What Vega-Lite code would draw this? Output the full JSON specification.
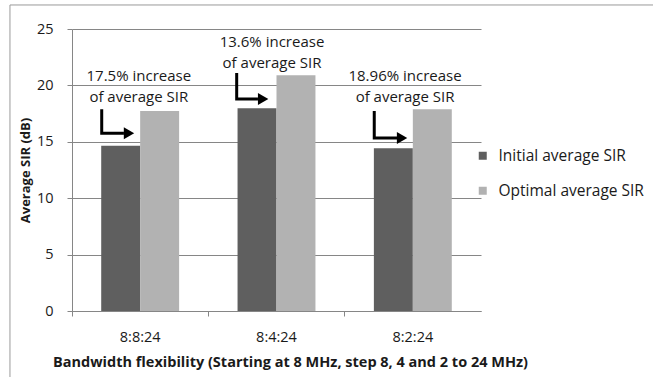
{
  "$schema": "https://vega.github.io/schema/vega-lite/v6.json",
  "autosize": {"type": "none"},
  "padding": {"left": 72, "top": 29, "right": 172, "bottom": 66},
  "width": 409,
  "height": 282,
  "background": "white",
  "config": {
    "font": "Open Sans",
    "view": {"stroke": null},
    "axis": {"labelFont": "Open Sans", "titleFont": "Open Sans", "labelColor": "#1a1a1a", "titleColor": "#1a1a1a"},
    "legend": {"labelFont": "Open Sans"}
  },
  "datasets": {
    "sir": [
      {"setting": "8:8:24", "series": "Initial average SIR", "value": 14.65},
      {"setting": "8:8:24", "series": "Optimal average SIR", "value": 17.73},
      {"setting": "8:4:24", "series": "Initial average SIR", "value": 17.97},
      {"setting": "8:4:24", "series": "Optimal average SIR", "value": 20.9},
      {"setting": "8:2:24", "series": "Initial average SIR", "value": 14.42},
      {"setting": "8:2:24", "series": "Optimal average SIR", "value": 17.88}
    ],
    "arrows": [
      {"group": 1, "ord": 1, "u": 0.218, "v": 17.88},
      {"group": 1, "ord": 2, "u": 0.218, "v": 15.75},
      {"group": 1, "ord": 3, "u": 0.381, "v": 15.75},
      {"group": 2, "ord": 1, "u": 1.208, "v": 21.1},
      {"group": 2, "ord": 2, "u": 1.208, "v": 18.79},
      {"group": 2, "ord": 3, "u": 1.364, "v": 18.79},
      {"group": 3, "ord": 1, "u": 2.217, "v": 17.73},
      {"group": 3, "ord": 2, "u": 2.217, "v": 15.34},
      {"group": 3, "ord": 3, "u": 2.384, "v": 15.34}
    ],
    "heads": [
      {"group": 1, "u": 0.418, "v": 15.75},
      {"group": 2, "u": 1.402, "v": 18.79},
      {"group": 3, "u": 2.421, "v": 15.34}
    ],
    "notes": [
      {"u": 0.49, "v": 20.39, "label": ["17.5% increase", "of average SIR"]},
      {"u": 1.467, "v": 23.4, "label": ["13.6% increase", "of average SIR"]},
      {"u": 2.443, "v": 20.39, "label": ["18.96% increase", "of average SIR"]}
    ],
    "frame": [
      {"edge": "left", "u": -0.455, "u2": -0.455, "v": 27.13, "v2": -6},
      {"edge": "top", "u": -0.455, "u2": 5, "v": 27.13, "v2": 27.13}
    ]
  },
  "layer": [
    {
      "data": {"name": "sir"},
      "mark": {"type": "bar"},
      "encoding": {
        "x": {
          "field": "setting",
          "type": "nominal",
          "sort": ["8:8:24", "8:4:24", "8:2:24"],
          "scale": {"paddingInner": 0, "paddingOuter": 0},
          "axis": {
            "title": "Bandwidth flexibility (Starting at 8 MHz, step 8, 4 and 2 to 24 MHz)",
            "labelAngle": 0,
            "labelFontSize": 14.5,
            "labelPadding": 14,
            "bandPosition": 0,
            "tickSize": 5,
            "tickColor": "#868686",
            "domainColor": "#868686",
            "titleFontSize": 14.5,
            "titleFontWeight": "bold",
            "titleX": 218,
            "titleY": 55,
            "titleBaseline": "alphabetic",
            "titleAlign": "center"
          }
        },
        "xOffset": {
          "field": "series",
          "type": "nominal",
          "scale": {"paddingInner": 0, "paddingOuter": 0.75}
        },
        "y": {
          "field": "value",
          "type": "quantitative",
          "scale": {"domain": [0, 25], "nice": false},
          "axis": {
            "title": "Average SIR (dB)",
            "values": [0, 5, 10, 15, 20, 25],
            "labelFontSize": 14.5,
            "labelPadding": 14,
            "tickSize": 5,
            "tickColor": "#868686",
            "domainColor": "#868686",
            "gridColor": "#868686",
            "gridOpacity": 1,
            "titleFontSize": 13,
            "titleFontWeight": "bold",
            "titleAngle": -90,
            "titleX": -47,
            "titleY": 141,
            "titleBaseline": "middle",
            "titleAlign": "center"
          }
        },
        "color": {
          "field": "series",
          "type": "nominal",
          "scale": {"range": ["#5f5f5f", "#b2b2b2"]},
          "legend": {
            "title": null,
            "orient": "none",
            "legendX": 403,
            "legendY": 119,
            "padding": 0,
            "symbolType": "square",
            "symbolSize": 64,
            "symbolStrokeWidth": 0,
            "labelFontSize": 15.5,
            "labelColor": "#1a1a1a",
            "labelOffset": 8,
            "rowPadding": 18
          }
        }
      }
    },
    {
      "layer": [
        {
          "data": {"name": "frame"},
          "mark": {"type": "rule", "color": "#9a9a9a", "strokeWidth": 1},
          "encoding": {
            "x": {"field": "u", "type": "quantitative", "scale": {"domain": [0, 3], "nice": false, "zero": false}, "axis": null},
            "x2": {"field": "u2"},
            "y": {"field": "v", "type": "quantitative", "scale": {"domain": [0, 25], "nice": false}},
            "y2": {"field": "v2"},
            "detail": {"field": "edge"}
          }
        },
        {
          "data": {"name": "arrows"},
          "mark": {"type": "line", "color": "black", "strokeWidth": 3, "strokeCap": "butt", "strokeJoin": "miter"},
          "encoding": {
            "x": {"field": "u", "type": "quantitative", "scale": {"domain": [0, 3], "nice": false, "zero": false}, "axis": null},
            "y": {"field": "v", "type": "quantitative", "scale": {"domain": [0, 25], "nice": false}},
            "detail": {"field": "group"},
            "order": {"field": "ord"}
          }
        },
        {
          "data": {"name": "heads"},
          "mark": {"type": "point", "shape": "triangle-right", "filled": true, "color": "black", "opacity": 1, "size": 144, "strokeWidth": 0},
          "encoding": {
            "x": {"field": "u", "type": "quantitative", "scale": {"domain": [0, 3], "nice": false, "zero": false}, "axis": null},
            "y": {"field": "v", "type": "quantitative", "scale": {"domain": [0, 25], "nice": false}}
          }
        },
        {
          "data": {"name": "notes"},
          "mark": {"type": "text", "fontSize": 15, "lineHeight": 21, "align": "center", "baseline": "alphabetic", "color": "#1a1a1a"},
          "encoding": {
            "x": {"field": "u", "type": "quantitative", "scale": {"domain": [0, 3], "nice": false, "zero": false}, "axis": null},
            "y": {"field": "v", "type": "quantitative", "scale": {"domain": [0, 25], "nice": false}},
            "text": {"field": "label"}
          }
        }
      ]
    }
  ],
  "resolve": {"scale": {"x": "independent"}, "axis": {"x": "independent"}}
}
